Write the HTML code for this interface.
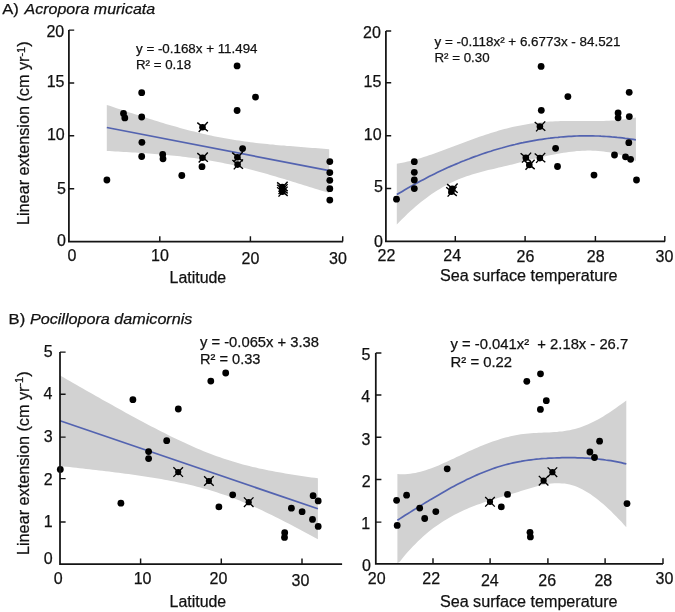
<!DOCTYPE html>
<html><head><meta charset="utf-8"><title>Figure</title>
<style>
html,body{margin:0;padding:0;background:#fff;}
body{width:675px;height:612px;overflow:hidden;font-family:"Liberation Sans", sans-serif;}
svg{display:block;will-change:transform;}
</style></head>
<body>
<svg width="675" height="612" viewBox="0 0 675 612">
<path d="M106.8 104.9 L109.6 105.8 L112.4 106.8 L115.2 107.7 L118.1 108.7 L120.9 109.6 L123.7 110.5 L126.5 111.4 L129.3 112.4 L132.1 113.3 L135.0 114.2 L137.8 115.1 L140.6 116.0 L143.4 116.9 L146.2 117.8 L149.0 118.7 L151.8 119.6 L154.7 120.5 L157.5 121.3 L160.3 122.2 L163.1 123.1 L165.9 123.9 L168.7 124.7 L171.5 125.5 L174.4 126.3 L177.2 127.1 L180.0 127.9 L182.8 128.7 L185.6 129.4 L188.4 130.2 L191.3 130.9 L194.1 131.6 L196.9 132.3 L199.7 133.0 L202.5 133.7 L205.3 134.3 L208.1 135.0 L211.0 135.6 L213.8 136.2 L216.6 136.7 L219.4 137.3 L222.2 137.8 L225.0 138.3 L227.9 138.8 L230.7 139.3 L233.5 139.8 L236.3 140.2 L239.1 140.6 L241.9 141.0 L244.7 141.4 L247.6 141.8 L250.4 142.2 L253.2 142.5 L256.0 142.9 L258.8 143.2 L261.6 143.5 L264.5 143.8 L267.3 144.1 L270.1 144.4 L272.9 144.6 L275.7 144.9 L278.5 145.2 L281.3 145.4 L284.2 145.6 L287.0 145.9 L289.8 146.1 L292.6 146.3 L295.4 146.6 L298.2 146.8 L301.0 147.0 L303.9 147.2 L306.7 147.5 L309.5 147.7 L312.3 147.9 L315.1 148.1 L317.9 148.3 L320.8 148.6 L323.6 148.8 L326.4 149.0 L329.2 149.3 L329.2 193.0 L326.4 192.1 L323.6 191.3 L320.8 190.4 L317.9 189.5 L315.1 188.7 L312.3 187.8 L309.5 186.9 L306.7 186.0 L303.9 185.2 L301.0 184.3 L298.2 183.4 L295.4 182.5 L292.6 181.7 L289.8 180.8 L287.0 179.9 L284.2 179.1 L281.3 178.2 L278.5 177.4 L275.7 176.6 L272.9 175.7 L270.1 174.9 L267.3 174.1 L264.5 173.3 L261.6 172.5 L258.8 171.7 L256.0 170.9 L253.2 170.2 L250.4 169.4 L247.6 168.7 L244.7 168.0 L241.9 167.3 L239.1 166.6 L236.3 165.9 L233.5 165.3 L230.7 164.6 L227.9 164.0 L225.0 163.4 L222.2 162.8 L219.4 162.3 L216.6 161.7 L213.8 161.2 L211.0 160.7 L208.1 160.2 L205.3 159.8 L202.5 159.3 L199.7 158.9 L196.9 158.5 L194.1 158.1 L191.3 157.7 L188.4 157.4 L185.6 157.0 L182.8 156.7 L180.0 156.3 L177.2 156.0 L174.4 155.7 L171.5 155.4 L168.7 155.2 L165.9 154.9 L163.1 154.6 L160.3 154.4 L157.5 154.2 L154.7 153.9 L151.8 153.7 L149.0 153.5 L146.2 153.3 L143.4 153.1 L140.6 152.9 L137.8 152.7 L135.0 152.5 L132.1 152.4 L129.3 152.2 L126.5 152.0 L123.7 151.9 L120.9 151.7 L118.1 151.5 L115.2 151.4 L112.4 151.2 L109.6 151.1 L106.8 150.9Z" fill="#d2d2d2"/>
<path d="M106.8 127.5 L329.2 170.7" fill="none" stroke="#5363b0" stroke-width="1.7"/>
<circle cx="106.9" cy="180.0" r="3.4"/>
<circle cx="123.5" cy="113.4" r="3.4"/>
<circle cx="124.8" cy="117.9" r="3.4"/>
<circle cx="141.7" cy="92.7" r="3.4"/>
<circle cx="141.7" cy="117.0" r="3.4"/>
<circle cx="141.9" cy="142.3" r="3.4"/>
<circle cx="141.7" cy="156.5" r="3.4"/>
<circle cx="162.7" cy="154.5" r="3.4"/>
<circle cx="163.0" cy="158.8" r="3.4"/>
<circle cx="181.8" cy="175.5" r="3.4"/>
<circle cx="202.0" cy="166.7" r="3.4"/>
<circle cx="237.1" cy="65.9" r="3.4"/>
<circle cx="255.5" cy="97.1" r="3.4"/>
<circle cx="237.1" cy="110.5" r="3.4"/>
<circle cx="242.6" cy="148.6" r="3.4"/>
<circle cx="329.8" cy="161.6" r="3.4"/>
<circle cx="329.8" cy="172.6" r="3.4"/>
<circle cx="329.8" cy="180.3" r="3.4"/>
<circle cx="329.8" cy="188.7" r="3.4"/>
<circle cx="329.8" cy="200.1" r="3.4"/>
<circle cx="202.5" cy="127.2" r="3.3"/>
<path d="M197.3 122.6L207.9 131.3M207.8 122.0L198.7 132.0" stroke="#000" stroke-width="1.4" fill="none"/>
<circle cx="202.5" cy="157.7" r="3.3"/>
<path d="M197.3 153.1L207.9 161.8M207.8 152.5L198.7 162.5" stroke="#000" stroke-width="1.4" fill="none"/>
<circle cx="237.4" cy="157.2" r="3.3"/>
<path d="M232.2 152.6L242.8 161.3M242.7 152.0L233.6 162.0" stroke="#000" stroke-width="1.4" fill="none"/>
<circle cx="237.6" cy="164.6" r="3.3"/>
<path d="M232.4 160.0L243.0 168.7M242.9 159.4L233.8 169.4" stroke="#000" stroke-width="1.4" fill="none"/>
<circle cx="282.3" cy="187.0" r="3.3"/>
<path d="M277.1 182.4L287.7 191.1M287.6 181.8L278.5 191.8" stroke="#000" stroke-width="1.4" fill="none"/>
<circle cx="282.3" cy="189.3" r="3.3"/>
<path d="M277.1 184.7L287.7 193.4M287.6 184.1L278.5 194.1" stroke="#000" stroke-width="1.4" fill="none"/>
<circle cx="282.3" cy="191.8" r="3.3"/>
<path d="M277.1 187.2L287.7 195.9M287.6 186.6L278.5 196.6" stroke="#000" stroke-width="1.4" fill="none"/>
<path d="M68.9 29.9V241.6H342.9" fill="none" stroke="#141414" stroke-width="1.75"/>
<path d="M68.9 30.1h5.3M68.9 83.0h5.3M68.9 135.8h5.3M68.9 188.8h5.3M159.8 241.6v-5.3M250.4 241.6v-5.3M342.7 241.6v-5.3" fill="none" stroke="#141414" stroke-width="1.45"/>
<path d="M396.8 163.8 L399.5 163.3 L402.2 162.8 L404.9 162.2 L407.5 161.6 L410.2 160.9 L412.9 160.2 L415.6 159.4 L418.3 158.7 L421.0 157.9 L423.7 157.0 L426.4 156.2 L429.0 155.3 L431.7 154.4 L434.4 153.5 L437.1 152.5 L439.8 151.6 L442.5 150.6 L445.2 149.6 L447.8 148.6 L450.5 147.6 L453.2 146.6 L455.9 145.6 L458.6 144.6 L461.3 143.5 L464.0 142.5 L466.6 141.5 L469.3 140.5 L472.0 139.5 L474.7 138.5 L477.4 137.6 L480.1 136.6 L482.8 135.7 L485.5 134.8 L488.1 133.9 L490.8 133.0 L493.5 132.2 L496.2 131.4 L498.9 130.6 L501.6 129.8 L504.3 129.1 L506.9 128.4 L509.6 127.7 L512.3 127.1 L515.0 126.5 L517.7 126.0 L520.4 125.4 L523.1 124.9 L525.8 124.5 L528.4 124.0 L531.1 123.6 L533.8 123.3 L536.5 122.9 L539.2 122.6 L541.9 122.3 L544.6 122.1 L547.2 121.8 L549.9 121.6 L552.6 121.5 L555.3 121.3 L558.0 121.2 L560.7 121.1 L563.4 121.1 L566.1 121.0 L568.7 121.0 L571.4 121.0 L574.1 121.0 L576.8 121.0 L579.5 121.0 L582.2 121.0 L584.9 121.1 L587.5 121.1 L590.2 121.1 L592.9 121.1 L595.6 121.1 L598.3 121.0 L601.0 121.0 L603.7 120.9 L606.3 120.8 L609.0 120.7 L611.7 120.6 L614.4 120.4 L617.1 120.2 L619.8 119.9 L622.5 119.6 L625.2 119.3 L627.8 118.9 L630.5 118.5 L633.2 118.0 L635.9 117.5 L635.9 161.0 L633.2 159.7 L630.5 158.6 L627.8 157.5 L625.2 156.5 L622.5 155.6 L619.8 154.8 L617.1 154.1 L614.4 153.4 L611.7 152.8 L609.0 152.3 L606.3 151.9 L603.7 151.5 L601.0 151.2 L598.3 151.0 L595.6 150.8 L592.9 150.7 L590.2 150.6 L587.5 150.6 L584.9 150.7 L582.2 150.8 L579.5 150.9 L576.8 151.1 L574.1 151.4 L571.4 151.7 L568.7 152.0 L566.1 152.4 L563.4 152.8 L560.7 153.2 L558.0 153.7 L555.3 154.2 L552.6 154.7 L549.9 155.2 L547.2 155.8 L544.6 156.4 L541.9 157.0 L539.2 157.7 L536.5 158.3 L533.8 158.9 L531.1 159.6 L528.4 160.3 L525.8 161.0 L523.1 161.7 L520.4 162.3 L517.7 163.0 L515.0 163.7 L512.3 164.4 L509.6 165.0 L506.9 165.7 L504.3 166.3 L501.6 167.0 L498.9 167.6 L496.2 168.2 L493.5 168.9 L490.8 169.5 L488.1 170.1 L485.5 170.8 L482.8 171.5 L480.1 172.2 L477.4 172.9 L474.7 173.7 L472.0 174.5 L469.3 175.4 L466.6 176.3 L464.0 177.2 L461.3 178.2 L458.6 179.3 L455.9 180.5 L453.2 181.7 L450.5 183.0 L447.8 184.3 L445.2 185.7 L442.5 187.3 L439.8 188.9 L437.1 190.5 L434.4 192.3 L431.7 194.1 L429.0 196.0 L426.4 197.9 L423.7 200.0 L421.0 202.1 L418.3 204.3 L415.6 206.6 L412.9 208.9 L410.2 211.3 L407.5 213.8 L404.9 216.4 L402.2 219.0 L399.5 221.7 L396.8 224.5Z" fill="#d2d2d2"/>
<path d="M396.8 194.6 L399.5 193.0 L402.2 191.4 L404.9 189.8 L407.5 188.2 L410.2 186.7 L412.9 185.2 L415.6 183.7 L418.3 182.3 L421.0 180.8 L423.7 179.4 L426.4 178.0 L429.0 176.6 L431.7 175.3 L434.4 173.9 L437.1 172.6 L439.8 171.3 L442.5 170.1 L445.2 168.8 L447.8 167.6 L450.5 166.4 L453.2 165.2 L455.9 164.1 L458.6 163.0 L461.3 161.8 L464.0 160.8 L466.6 159.7 L469.3 158.7 L472.0 157.6 L474.7 156.6 L477.4 155.7 L480.1 154.7 L482.8 153.8 L485.5 152.9 L488.1 152.0 L490.8 151.2 L493.5 150.3 L496.2 149.5 L498.9 148.7 L501.6 148.0 L504.3 147.2 L506.9 146.5 L509.6 145.8 L512.3 145.1 L515.0 144.5 L517.7 143.8 L520.4 143.2 L523.1 142.7 L525.8 142.1 L528.4 141.6 L531.1 141.1 L533.8 140.6 L536.5 140.1 L539.2 139.7 L541.9 139.3 L544.6 138.9 L547.2 138.5 L549.9 138.2 L552.6 137.8 L555.3 137.5 L558.0 137.3 L560.7 137.0 L563.4 136.8 L566.1 136.6 L568.7 136.4 L571.4 136.3 L574.1 136.1 L576.8 136.0 L579.5 135.9 L582.2 135.9 L584.9 135.9 L587.5 135.8 L590.2 135.9 L592.9 135.9 L595.6 136.0 L598.3 136.0 L601.0 136.2 L603.7 136.3 L606.3 136.5 L609.0 136.6 L611.7 136.9 L614.4 137.1 L617.1 137.4 L619.8 137.6 L622.5 137.9 L625.2 138.3 L627.8 138.6 L630.5 139.0 L633.2 139.4 L635.9 139.9" fill="none" stroke="#5363b0" stroke-width="1.7"/>
<circle cx="396.5" cy="199.2" r="3.4"/>
<circle cx="414.3" cy="161.7" r="3.4"/>
<circle cx="414.3" cy="172.3" r="3.4"/>
<circle cx="414.3" cy="180.0" r="3.4"/>
<circle cx="414.3" cy="188.6" r="3.4"/>
<circle cx="541.1" cy="66.4" r="3.4"/>
<circle cx="567.9" cy="96.6" r="3.4"/>
<circle cx="541.3" cy="110.3" r="3.4"/>
<circle cx="555.6" cy="148.3" r="3.4"/>
<circle cx="557.5" cy="166.5" r="3.4"/>
<circle cx="629.2" cy="92.3" r="3.4"/>
<circle cx="618.1" cy="113.0" r="3.4"/>
<circle cx="618.1" cy="117.8" r="3.4"/>
<circle cx="629.3" cy="116.6" r="3.4"/>
<circle cx="628.8" cy="142.7" r="3.4"/>
<circle cx="614.5" cy="155.0" r="3.4"/>
<circle cx="625.5" cy="156.8" r="3.4"/>
<circle cx="630.6" cy="159.3" r="3.4"/>
<circle cx="594.0" cy="175.1" r="3.4"/>
<circle cx="636.5" cy="180.0" r="3.4"/>
<circle cx="452.3" cy="188.7" r="3.3"/>
<path d="M447.1 184.1L457.7 192.8M457.6 183.5L448.5 193.5" stroke="#000" stroke-width="1.4" fill="none"/>
<circle cx="451.4" cy="191.8" r="3.3"/>
<path d="M446.2 187.2L456.8 195.9M456.7 186.6L447.6 196.6" stroke="#000" stroke-width="1.4" fill="none"/>
<circle cx="539.9" cy="126.6" r="3.3"/>
<path d="M534.7 122.0L545.3 130.7M545.2 121.4L536.1 131.4" stroke="#000" stroke-width="1.4" fill="none"/>
<circle cx="525.8" cy="157.8" r="3.3"/>
<path d="M520.6 153.2L531.2 161.9M531.1 152.6L522.0 162.6" stroke="#000" stroke-width="1.4" fill="none"/>
<circle cx="529.3" cy="165.0" r="3.3"/>
<path d="M524.1 160.4L534.7 169.1M534.6 159.8L525.5 169.8" stroke="#000" stroke-width="1.4" fill="none"/>
<circle cx="539.9" cy="158.1" r="3.3"/>
<path d="M534.7 153.5L545.3 162.2M545.2 152.9L536.1 162.9" stroke="#000" stroke-width="1.4" fill="none"/>
<path d="M385.9 30.9V241.4H665.0" fill="none" stroke="#141414" stroke-width="1.75"/>
<path d="M385.9 31.0h5.3M385.9 82.8h5.3M385.9 135.8h5.3M385.9 188.5h5.3M455.3 241.4v-5.3M525.1 241.4v-5.3M595.4 241.4v-5.3M664.8 241.4v-5.3" fill="none" stroke="#141414" stroke-width="1.45"/>
<path d="M60.0 375.4 L63.3 377.3 L66.5 379.2 L69.8 381.1 L73.1 383.0 L76.3 384.8 L79.6 386.7 L82.9 388.6 L86.1 390.4 L89.4 392.3 L92.6 394.1 L95.9 396.0 L99.2 397.8 L102.4 399.7 L105.7 401.5 L109.0 403.3 L112.2 405.1 L115.5 407.0 L118.8 408.8 L122.0 410.6 L125.3 412.4 L128.6 414.2 L131.8 415.9 L135.1 417.7 L138.3 419.5 L141.6 421.2 L144.9 423.0 L148.1 424.7 L151.4 426.4 L154.7 428.1 L157.9 429.8 L161.2 431.5 L164.5 433.1 L167.7 434.8 L171.0 436.4 L174.3 438.0 L177.5 439.6 L180.8 441.1 L184.1 442.6 L187.3 444.1 L190.6 445.6 L193.8 447.0 L197.1 448.5 L200.4 449.8 L203.6 451.2 L206.9 452.5 L210.2 453.8 L213.4 455.0 L216.7 456.2 L220.0 457.3 L223.2 458.5 L226.5 459.5 L229.8 460.6 L233.0 461.6 L236.3 462.6 L239.6 463.5 L242.8 464.4 L246.1 465.2 L249.3 466.1 L252.6 466.9 L255.9 467.6 L259.1 468.4 L262.4 469.1 L265.7 469.7 L268.9 470.4 L272.2 471.0 L275.5 471.7 L278.7 472.3 L282.0 472.8 L285.3 473.4 L288.5 473.9 L291.8 474.5 L295.0 475.0 L298.3 475.5 L301.6 476.0 L304.8 476.5 L308.1 476.9 L311.4 477.4 L314.6 477.8 L317.9 478.3 L317.9 539.3 L314.6 537.5 L311.4 535.7 L308.1 533.9 L304.8 532.2 L301.6 530.4 L298.3 528.7 L295.0 527.0 L291.8 525.3 L288.5 523.6 L285.3 521.9 L282.0 520.2 L278.7 518.6 L275.5 516.9 L272.2 515.3 L268.9 513.7 L265.7 512.2 L262.4 510.6 L259.1 509.1 L255.9 507.6 L252.6 506.1 L249.3 504.7 L246.1 503.3 L242.8 501.9 L239.6 500.6 L236.3 499.3 L233.0 498.0 L229.8 496.8 L226.5 495.6 L223.2 494.5 L220.0 493.4 L216.7 492.3 L213.4 491.3 L210.2 490.3 L206.9 489.3 L203.6 488.4 L200.4 487.5 L197.1 486.7 L193.8 485.8 L190.6 485.0 L187.3 484.3 L184.1 483.6 L180.8 482.9 L177.5 482.2 L174.3 481.5 L171.0 480.9 L167.7 480.3 L164.5 479.7 L161.2 479.1 L157.9 478.6 L154.7 478.0 L151.4 477.5 L148.1 477.0 L144.9 476.5 L141.6 476.0 L138.3 475.5 L135.1 475.1 L131.8 474.6 L128.6 474.1 L125.3 473.7 L122.0 473.3 L118.8 472.8 L115.5 472.4 L112.2 472.0 L109.0 471.6 L105.7 471.2 L102.4 470.8 L99.2 470.4 L95.9 470.0 L92.6 469.7 L89.4 469.3 L86.1 468.9 L82.9 468.6 L79.6 468.2 L76.3 467.8 L73.1 467.5 L69.8 467.1 L66.5 466.8 L63.3 466.4 L60.0 466.1Z" fill="#d2d2d2"/>
<path d="M60.0 420.8 L317.9 508.8" fill="none" stroke="#5363b0" stroke-width="1.7"/>
<circle cx="60.3" cy="469.4" r="3.4"/>
<circle cx="120.9" cy="503.2" r="3.4"/>
<circle cx="132.9" cy="399.7" r="3.4"/>
<circle cx="178.3" cy="409.0" r="3.4"/>
<circle cx="166.7" cy="440.7" r="3.4"/>
<circle cx="148.6" cy="451.6" r="3.4"/>
<circle cx="148.6" cy="458.6" r="3.4"/>
<circle cx="210.8" cy="381.1" r="3.4"/>
<circle cx="225.7" cy="373.0" r="3.4"/>
<circle cx="232.7" cy="494.8" r="3.4"/>
<circle cx="218.9" cy="506.9" r="3.4"/>
<circle cx="291.4" cy="508.2" r="3.4"/>
<circle cx="302.1" cy="511.7" r="3.4"/>
<circle cx="313.1" cy="495.7" r="3.4"/>
<circle cx="318.2" cy="500.9" r="3.4"/>
<circle cx="312.5" cy="519.4" r="3.4"/>
<circle cx="318.2" cy="526.4" r="3.4"/>
<circle cx="284.7" cy="532.7" r="3.4"/>
<circle cx="284.5" cy="537.4" r="3.4"/>
<circle cx="178.2" cy="472.1" r="3.1"/>
<path d="M173.4 467.3L183.0 476.9M183.0 467.3L173.4 476.9" stroke="#000" stroke-width="1.3" fill="none"/>
<circle cx="208.9" cy="481.0" r="3.1"/>
<path d="M204.1 476.2L213.7 485.8M213.7 476.2L204.1 485.8" stroke="#000" stroke-width="1.3" fill="none"/>
<circle cx="248.7" cy="502.2" r="3.1"/>
<path d="M243.9 497.4L253.5 507.0M253.5 497.4L243.9 507.0" stroke="#000" stroke-width="1.3" fill="none"/>
<path d="M60.0 352.0V564.0H342.1" fill="none" stroke="#141414" stroke-width="1.75"/>
<path d="M60.0 352.1h5.6M60.0 394.3h5.6M60.0 437.1h5.6M60.0 478.6h5.6M60.0 522.0h5.6M140.6 564.0v-5.6M221.3 564.0v-5.6M302.0 564.0v-5.6" fill="none" stroke="#141414" stroke-width="1.45"/>
<path d="M397.4 474.0 L400.0 474.2 L402.5 474.2 L405.1 474.2 L407.7 474.0 L410.3 473.7 L412.8 473.3 L415.4 472.9 L418.0 472.3 L420.5 471.7 L423.1 471.0 L425.7 470.2 L428.3 469.3 L430.8 468.4 L433.4 467.5 L436.0 466.4 L438.6 465.4 L441.1 464.3 L443.7 463.1 L446.3 462.0 L448.8 460.8 L451.4 459.6 L454.0 458.4 L456.6 457.1 L459.1 455.9 L461.7 454.7 L464.3 453.5 L466.8 452.3 L469.4 451.1 L472.0 449.9 L474.6 448.8 L477.1 447.7 L479.7 446.6 L482.3 445.6 L484.8 444.5 L487.4 443.5 L490.0 442.6 L492.6 441.6 L495.1 440.7 L497.7 439.9 L500.3 439.1 L502.8 438.3 L505.4 437.6 L508.0 436.9 L510.6 436.3 L513.1 435.7 L515.7 435.2 L518.3 434.7 L520.9 434.3 L523.4 434.0 L526.0 433.7 L528.6 433.4 L531.1 433.2 L533.7 433.1 L536.3 432.9 L538.9 432.8 L541.4 432.7 L544.0 432.6 L546.6 432.5 L549.1 432.4 L551.7 432.2 L554.3 432.1 L556.9 431.9 L559.4 431.6 L562.0 431.4 L564.6 431.0 L567.1 430.6 L569.7 430.2 L572.3 429.6 L574.9 429.0 L577.4 428.3 L580.0 427.5 L582.6 426.6 L585.1 425.6 L587.7 424.5 L590.3 423.3 L592.9 422.1 L595.4 420.8 L598.0 419.4 L600.6 417.9 L603.2 416.4 L605.7 414.8 L608.3 413.2 L610.9 411.5 L613.4 409.8 L616.0 408.0 L618.6 406.1 L621.2 404.3 L623.7 402.4 L626.3 400.5 L626.3 527.2 L623.7 524.4 L621.2 521.6 L618.6 518.9 L616.0 516.2 L613.4 513.7 L610.9 511.1 L608.3 508.7 L605.7 506.3 L603.2 504.1 L600.6 501.9 L598.0 499.8 L595.4 497.8 L592.9 495.9 L590.3 494.1 L587.7 492.5 L585.1 490.9 L582.6 489.5 L580.0 488.3 L577.4 487.1 L574.9 486.1 L572.3 485.3 L569.7 484.6 L567.1 484.0 L564.6 483.6 L562.0 483.4 L559.4 483.2 L556.9 483.2 L554.3 483.3 L551.7 483.5 L549.1 483.8 L546.6 484.2 L544.0 484.7 L541.4 485.2 L538.9 485.8 L536.3 486.5 L533.7 487.2 L531.1 487.9 L528.6 488.7 L526.0 489.5 L523.4 490.3 L520.9 491.1 L518.3 491.9 L515.7 492.7 L513.1 493.5 L510.6 494.3 L508.0 495.0 L505.4 495.8 L502.8 496.5 L500.3 497.3 L497.7 498.1 L495.1 498.9 L492.6 499.7 L490.0 500.5 L487.4 501.3 L484.8 502.1 L482.3 503.0 L479.7 503.9 L477.1 504.8 L474.6 505.8 L472.0 506.8 L469.4 507.8 L466.8 508.9 L464.3 510.0 L461.7 511.2 L459.1 512.4 L456.6 513.7 L454.0 515.0 L451.4 516.4 L448.8 517.9 L446.3 519.4 L443.7 521.0 L441.1 522.7 L438.6 524.4 L436.0 526.2 L433.4 528.1 L430.8 530.1 L428.3 532.1 L425.7 534.3 L423.1 536.6 L420.5 538.9 L418.0 541.3 L415.4 543.9 L412.8 546.5 L410.3 549.3 L407.7 552.1 L405.1 555.1 L402.5 558.2 L400.0 561.4 L397.4 563.2Z" fill="#d2d2d2"/>
<path d="M397.4 520.2 L400.0 518.6 L402.5 517.0 L405.1 515.3 L407.7 513.7 L410.3 512.1 L412.8 510.5 L415.4 508.9 L418.0 507.3 L420.5 505.7 L423.1 504.1 L425.7 502.5 L428.3 501.0 L430.8 499.4 L433.4 497.9 L436.0 496.4 L438.6 494.9 L441.1 493.4 L443.7 491.9 L446.3 490.4 L448.8 489.0 L451.4 487.6 L454.0 486.2 L456.6 484.8 L459.1 483.5 L461.7 482.2 L464.3 480.9 L466.8 479.6 L469.4 478.4 L472.0 477.2 L474.6 476.0 L477.1 474.9 L479.7 473.8 L482.3 472.7 L484.8 471.7 L487.4 470.7 L490.0 469.7 L492.6 468.8 L495.1 467.9 L497.7 467.0 L500.3 466.2 L502.8 465.5 L505.4 464.8 L508.0 464.1 L510.6 463.5 L513.1 462.9 L515.7 462.3 L518.3 461.8 L520.9 461.4 L523.4 460.9 L526.0 460.5 L528.6 460.1 L531.1 459.8 L533.7 459.5 L536.3 459.2 L538.9 459.0 L541.4 458.7 L544.0 458.5 L546.6 458.4 L549.1 458.2 L551.7 458.1 L554.3 458.0 L556.9 457.9 L559.4 457.8 L562.0 457.7 L564.6 457.7 L567.1 457.7 L569.7 457.7 L572.3 457.7 L574.9 457.7 L577.4 457.8 L580.0 457.8 L582.6 457.9 L585.1 458.1 L587.7 458.2 L590.3 458.4 L592.9 458.6 L595.4 458.8 L598.0 459.0 L600.6 459.3 L603.2 459.6 L605.7 460.0 L608.3 460.3 L610.9 460.7 L613.4 461.2 L616.0 461.7 L618.6 462.2 L621.2 462.7 L623.7 463.3 L626.3 463.9" fill="none" stroke="#5363b0" stroke-width="1.7"/>
<circle cx="526.8" cy="381.3" r="3.4"/>
<circle cx="540.5" cy="373.8" r="3.4"/>
<circle cx="546.3" cy="400.7" r="3.4"/>
<circle cx="540.4" cy="409.4" r="3.4"/>
<circle cx="447.2" cy="468.8" r="3.4"/>
<circle cx="406.6" cy="495.2" r="3.4"/>
<circle cx="396.6" cy="500.3" r="3.4"/>
<circle cx="419.7" cy="508.1" r="3.4"/>
<circle cx="435.8" cy="511.6" r="3.4"/>
<circle cx="424.7" cy="518.5" r="3.4"/>
<circle cx="397.2" cy="525.4" r="3.4"/>
<circle cx="507.5" cy="494.4" r="3.4"/>
<circle cx="501.3" cy="506.9" r="3.4"/>
<circle cx="530.0" cy="532.3" r="3.4"/>
<circle cx="530.4" cy="536.9" r="3.4"/>
<circle cx="599.6" cy="441.2" r="3.4"/>
<circle cx="589.9" cy="452.0" r="3.4"/>
<circle cx="594.5" cy="457.5" r="3.4"/>
<circle cx="627.0" cy="503.6" r="3.4"/>
<circle cx="490.0" cy="501.8" r="3.1"/>
<path d="M485.2 497.0L494.8 506.6M494.8 497.0L485.2 506.6" stroke="#000" stroke-width="1.3" fill="none"/>
<circle cx="543.6" cy="480.7" r="3.1"/>
<path d="M538.8 475.9L548.4 485.5M548.4 475.9L538.8 485.5" stroke="#000" stroke-width="1.3" fill="none"/>
<circle cx="552.4" cy="472.2" r="3.1"/>
<path d="M547.6 467.4L557.2 477.0M557.2 467.4L547.6 477.0" stroke="#000" stroke-width="1.3" fill="none"/>
<path d="M375.8 352.9V563.9H663.0" fill="none" stroke="#141414" stroke-width="1.75"/>
<path d="M375.8 353.0h5.6M375.8 394.9h5.6M375.8 437.2h5.6M375.8 479.4h5.6M375.8 522.1h5.6M433.0 563.9v-5.6M490.1 563.9v-5.6M547.9 563.9v-5.6M605.1 563.9v-5.6M663.0 563.9v-5.6" fill="none" stroke="#141414" stroke-width="1.45"/>
<g font-family=""Liberation Sans", sans-serif" fill="#111" stroke="#111" stroke-width="0.25">
<text x="2.3" y="13.8" font-size="14.5" textLength="16.6" lengthAdjust="spacingAndGlyphs">A)</text>
<text x="24.6" y="13.8" font-size="14.5" font-style="italic" textLength="130.5" lengthAdjust="spacingAndGlyphs">Acropora muricata</text>
<text x="8.6" y="323.6" font-size="14.8" textLength="16.6" lengthAdjust="spacingAndGlyphs">B)</text>
<text x="29.9" y="323.6" font-size="14.8" font-style="italic" textLength="162.5" lengthAdjust="spacingAndGlyphs">Pocillopora damicornis</text>
<text x="55.3" y="37.3" font-size="16.0" text-anchor="middle">20</text>
<text x="55.6" y="87.4" font-size="16.0" text-anchor="middle">15</text>
<text x="55.8" y="140.0" font-size="16.0" text-anchor="middle">10</text>
<text x="61.4" y="194.2" font-size="16.0" text-anchor="middle">5</text>
<text x="61.4" y="246.4" font-size="16.0" text-anchor="middle">0</text>
<text x="72.0" y="261.3" font-size="16.0" text-anchor="middle">0</text>
<text x="160.0" y="261.3" font-size="16.0" text-anchor="middle">10</text>
<text x="250.5" y="263.7" font-size="16.0" text-anchor="middle">20</text>
<text x="338.0" y="263.8" font-size="16.0" text-anchor="middle">30</text>
<text x="197.9" y="282.9" font-size="16" text-anchor="middle" textLength="56.6" lengthAdjust="spacingAndGlyphs">Latitude</text>
<text x="371.9" y="37.9" font-size="16.0" text-anchor="middle">20</text>
<text x="372.5" y="87.4" font-size="16.0" text-anchor="middle">15</text>
<text x="372.7" y="139.8" font-size="16.0" text-anchor="middle">10</text>
<text x="378.5" y="191.6" font-size="16.0" text-anchor="middle">5</text>
<text x="378.4" y="247.2" font-size="16.0" text-anchor="middle">0</text>
<text x="386.4" y="261.3" font-size="16.0" text-anchor="middle">22</text>
<text x="452.2" y="261.3" font-size="16.0" text-anchor="middle">24</text>
<text x="525.5" y="261.6" font-size="16.0" text-anchor="middle">26</text>
<text x="595.7" y="261.6" font-size="16.0" text-anchor="middle">28</text>
<text x="664.5" y="261.6" font-size="16.0" text-anchor="middle">30</text>
<text x="528.7" y="280.5" font-size="16" text-anchor="middle" textLength="177.6" lengthAdjust="spacingAndGlyphs">Sea surface temperature</text>
<text x="48.1" y="357.3" font-size="16.0" text-anchor="middle">5</text>
<text x="47.9" y="399.2" font-size="16.0" text-anchor="middle">4</text>
<text x="48.1" y="441.8" font-size="16.0" text-anchor="middle">3</text>
<text x="48.1" y="485.1" font-size="16.0" text-anchor="middle">2</text>
<text x="48.1" y="526.6" font-size="16.0" text-anchor="middle">1</text>
<text x="48.1" y="563.5" font-size="16.0" text-anchor="middle">0</text>
<text x="58.2" y="584.1" font-size="16.0" text-anchor="middle">0</text>
<text x="142.6" y="584.1" font-size="16.0" text-anchor="middle">10</text>
<text x="218.5" y="583.5" font-size="16.0" text-anchor="middle">20</text>
<text x="300.4" y="586.0" font-size="16.0" text-anchor="middle">30</text>
<text x="197.9" y="606.8" font-size="16" text-anchor="middle" textLength="56.6" lengthAdjust="spacingAndGlyphs">Latitude</text>
<text x="365.9" y="359.6" font-size="16.0" text-anchor="middle">5</text>
<text x="365.8" y="401.6" font-size="16.0" text-anchor="middle">4</text>
<text x="365.9" y="444.5" font-size="16.0" text-anchor="middle">3</text>
<text x="366.2" y="487.2" font-size="16.0" text-anchor="middle">2</text>
<text x="365.8" y="528.8" font-size="16.0" text-anchor="middle">1</text>
<text x="366.5" y="570.6" font-size="16.0" text-anchor="middle">0</text>
<text x="376.7" y="584.0" font-size="16.0" text-anchor="middle">20</text>
<text x="431.2" y="584.0" font-size="16.0" text-anchor="middle">22</text>
<text x="489.8" y="586.1" font-size="16.0" text-anchor="middle">24</text>
<text x="547.2" y="585.5" font-size="16.0" text-anchor="middle">26</text>
<text x="603.3" y="585.7" font-size="16.0" text-anchor="middle">28</text>
<text x="664.5" y="584.0" font-size="16.0" text-anchor="middle">30</text>
<text x="528.7" y="606.8" font-size="16" text-anchor="middle" textLength="177.6" lengthAdjust="spacingAndGlyphs">Sea surface temperature</text>
<text transform="translate(29.2 225.0) rotate(-90)" font-size="16.2" textLength="183.6" lengthAdjust="spacingAndGlyphs">Linear extension (cm yr<tspan dy="-4.6" font-size="11">-1</tspan><tspan dy="4.6">)</tspan></text>
<text transform="translate(29.0 555.0) rotate(-90)" font-size="16.2" textLength="183.6" lengthAdjust="spacingAndGlyphs">Linear extension (cm yr<tspan dy="-6.4" font-size="11">-1</tspan><tspan dy="6.4">)</tspan></text>
<text x="136.0" y="52.8" font-size="13.3" textLength="121.5" lengthAdjust="spacingAndGlyphs">y = -0.168x + 11.494</text>
<text x="136.0" y="68.8" font-size="13.3">R² = 0.18</text>
<text x="434.5" y="46.3" font-size="13.3" textLength="186.0" lengthAdjust="spacingAndGlyphs">y = -0.118x² + 6.6773x - 84.521</text>
<text x="434.5" y="62.4" font-size="13.3">R² = 0.30</text>
<text x="200.0" y="346.6" font-size="14.6" textLength="119.0" lengthAdjust="spacingAndGlyphs">y = -0.065x + 3.38</text>
<text x="200.0" y="364.4" font-size="14.6">R² = 0.33</text>
<text x="450.6" y="348.8" font-size="14.6" textLength="177.6" lengthAdjust="spacingAndGlyphs" xml:space="preserve" style="white-space:pre">y = -0.041x²  + 2.18x - 26.7</text>
<text x="450.6" y="366.6" font-size="14.6" textLength="61.5" lengthAdjust="spacingAndGlyphs">R² = 0.22</text>
</g>
</svg>
</body></html>
